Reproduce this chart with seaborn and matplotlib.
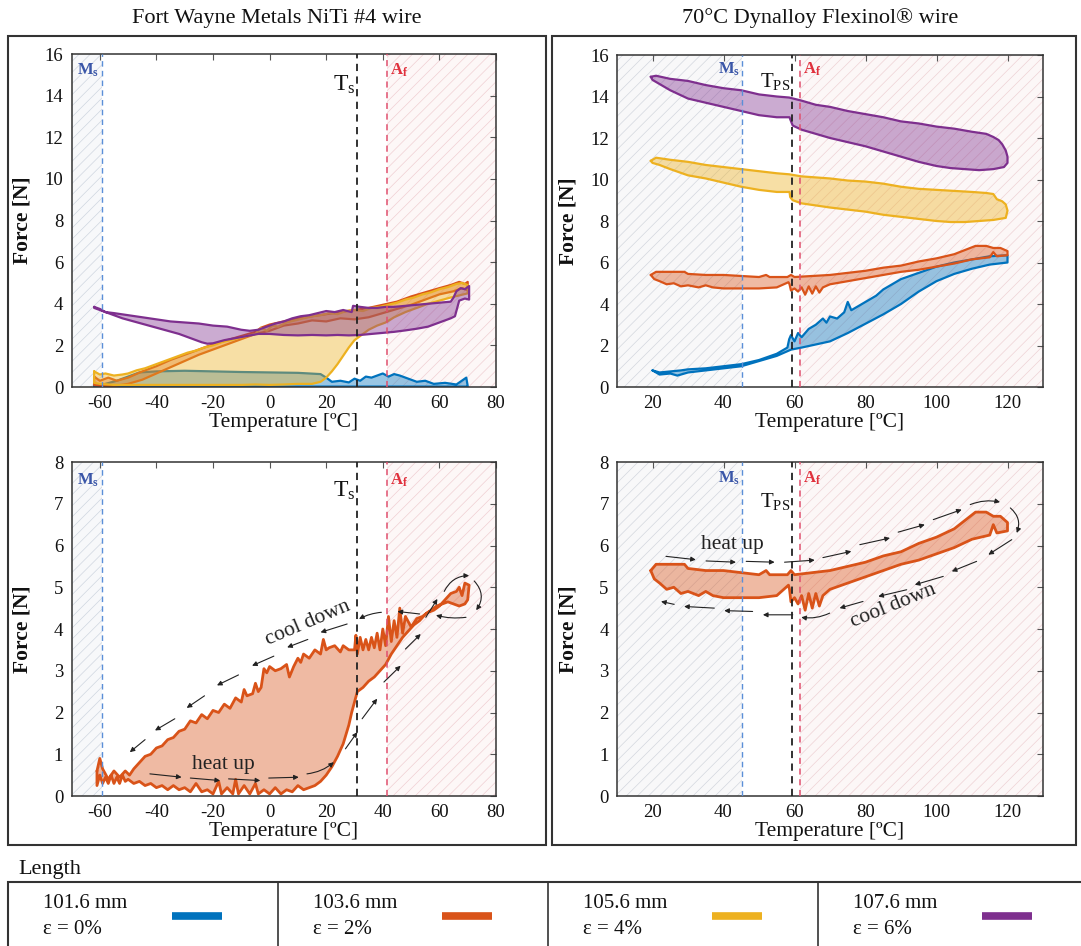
import numpy as np
import pandas as pd
import matplotlib
matplotlib.use("Agg")
import matplotlib.pyplot as plt
import seaborn as sns
from matplotlib.patches import Rectangle
from matplotlib.lines import Line2D

# ---------------- data ----------------
TITLES = ["Fort Wayne Metals NiTi #4 wire", "70°C Dynalloy Flexinol® wire"]
LENGTHS = ["101.6 mm", "103.6 mm", "105.6 mm", "107.6 mm"]
STRAINS = ["ε = 0%", "ε = 2%", "ε = 4%", "ε = 6%"]
COLORS = ["#0072BD", "#D95319", "#EDB120", "#7E2F8E"]

# Fort Wayne (left) – closed hysteresis loops (temperature, force)
BLUE_L_T = [-62, -50, -40, -30, -20, -10, 0, 10, 20, 30, 40, 50, 60, 70,
            70, 69.5, 66, 62, 58, 55, 52, 50, 48, 46,
            44, 42, 40, 38, 36, 34, 32, 30, 28, 25,
            22, 20, 18, 10, 0, -10, -20, -30, -40, -46,
            -50, -54, -58, -62]
BLUE_L_F = [0.02, 0.02, 0.02, 0.02, 0.02, 0.02, 0.02, 0.02, 0.02, 0.02, 0.02, 0.02, 0.02, 0.02,
            0.05, 0.45, 0.12, 0.2, 0.15, 0.3, 0.25, 0.35, 0.45, 0.55,
            0.62, 0.5, 0.65, 0.55, 0.45, 0.5, 0.3, 0.4, 0.22, 0.3,
            0.25, 0.45, 0.62, 0.68, 0.7, 0.72, 0.75, 0.78, 0.75, 0.7,
            0.5, 0.3, 0.15, 0.05]

ORANGE_TL_T = [-62, -60, -57, -54, -50, -45, -40, -35, -30, -25,
               -20, -15, -10, -5, -3, 0, 5, 10, 15, 20,
               25, 30, 35, 40, 45, 50, 55, 60, 64, 67,
               69, 70,
               70, 68, 65, 60, 55, 50, 45, 40, 35, 30,
               25, 20, 15, 10, 5, 0, -5, -10, -15, -20,
               -25, -30, -35, -40, -45, -50, -55, -60, -62]
ORANGE_TL_F = [0.5, 0.3, 0.45, 0.3, 0.45, 0.75, 1.0, 1.3, 1.55, 1.8,
               2.05, 2.25, 2.45, 2.65, 2.85, 3.0, 3.15, 3.3, 3.4, 3.5,
               3.6, 3.7, 3.8, 3.95, 4.1, 4.35, 4.55, 4.75, 4.9, 5.05,
               4.95, 5.05,
               4.65, 4.75, 4.6, 4.45, 4.2, 3.95, 3.75, 3.55, 3.35, 3.25,
               3.3, 3.15, 3.2, 3.05, 2.95, 2.7, 2.55, 2.3, 2.05, 1.8,
               1.55, 1.25, 0.95, 0.65, 0.35, 0.15, 0.05, 0.05, 0.1]

YELLOW_L_T = [-62, -60, -58, -55, -52, -50, -47, -44, -41, -38,
              -35, -32, -29, -26, -23, -20, -17, -14, -11, -8,
              -5, -3, -1, 1, 3, 6, 9, 12, 15, 18,
              21, 24, 27, 30, 33, 36, 39, 42, 45, 48,
              51, 54, 57, 60, 63, 66, 68, 70,
              70, 67, 64, 60, 56, 52, 48, 44, 41, 38,
              35, 32, 30, 28, 26, 24, 22, 20, 18, 15,
              10, 5, 0, -5, -10, -20, -30, -40, -50, -55,
              -60, -62]
YELLOW_L_F = [0.75, 0.6, 0.65, 0.55, 0.6, 0.65, 0.8, 0.9, 1.05, 1.2,
              1.35, 1.5, 1.65, 1.75, 1.9, 2.0, 2.15, 2.25, 2.35, 2.45,
              2.55, 2.85, 2.7, 2.95, 2.9, 3.1, 3.2, 3.3, 3.4, 3.45,
              3.55, 3.5, 3.65, 3.7, 3.65, 3.8, 3.85, 3.95, 4.05, 4.2,
              4.3, 4.45, 4.55, 4.7, 4.8, 4.95, 5.0, 4.9,
              4.5, 4.4, 4.3, 4.15, 4.0, 3.8, 3.6, 3.35, 3.1, 2.95,
              2.75, 2.45, 2.25, 1.9, 1.5, 1.1, 0.75, 0.45, 0.25, 0.15,
              0.15, 0.12, 0.1, 0.12, 0.1, 0.1, 0.1, 0.1, 0.1, 0.1,
              0.15, 0.2]

PURPLE_L_T = [-62, -60, -58, -55, -50, -45, -40, -35, -30, -25,
              -20, -15, -10, -7, -4, -1, 2, 5, 8, 11,
              14, 17, 20, 23, 26, 29, 29.5, 32, 35, 38,
              41, 44, 48, 52, 56, 60, 64, 65, 66, 67.5,
              69, 70.5,
              70.5, 69, 67, 65.5, 64, 60, 56, 52, 48, 44,
              40, 36, 32, 28, 24, 20, 15, 10, 5, 0,
              -4, -8, -12, -16, -20, -22, -24, -28, -32, -36,
              -40, -44, -48, -52, -56, -60, -62]
PURPLE_L_F = [3.85, 3.75, 3.6, 3.55, 3.45, 3.35, 3.25, 3.15, 3.1, 3.05,
              2.95, 2.9, 2.75, 2.7, 2.75, 2.9, 3.05, 3.15, 3.3, 3.4,
              3.45, 3.55, 3.65, 3.6, 3.7, 3.6, 3.9, 3.85, 3.8, 3.8,
              3.85, 3.85, 3.9, 3.95, 4.0, 4.05, 4.1, 4.3, 4.6, 4.75,
              4.7, 4.85,
              4.2, 4.25, 4.15, 3.4, 3.3, 3.1, 2.9, 2.8, 2.72, 2.65,
              2.6, 2.55, 2.5, 2.48, 2.5, 2.48, 2.5, 2.48, 2.5, 2.55,
              2.55, 2.45, 2.35, 2.25, 2.1, 2.08, 2.15, 2.35, 2.55, 2.7,
              2.85, 3.0, 3.15, 3.3, 3.5, 3.7, 3.8]

# 2% loop, Fort Wayne (bottom-left panel)
ORANGE_BL_T = [-61, -61, -60, -59, -58, -57, -56, -55, -54, -53,
               -52, -51, -50, -48, -46, -44, -42, -40, -38, -36,
               -34, -32, -30, -28, -26, -24, -22, -20, -18, -17,
               -15, -13, -12, -11, -9, -7, -5, -4, -2, 0,
               2, 4, 6, 8, 10, 12, 14, 16, 18, 20,
               22, 24, 26, 28, 29, 30, 31, 33, 35, 37,
               39, 41, 43, 45, 47, 49, 51, 53, 55, 57,
               59, 61, 63, 65, 67, 69, 70, 70.5, 69, 68,
               67, 66, 64, 62, 60, 58, 56, 54, 52, 50,
               48, 47, 46, 45, 44, 43, 42, 41, 40, 39,
               38, 37, 36, 35, 34, 33, 32, 31, 30.5, 30,
               28, 26, 25, 23, 21, 20, 19, 18, 16, 14,
               12, 11, 10, 8.5, 7, 6, 4, 2, 0, -1,
               -2, -3, -4, -5, -6, -8, -9, -10, -12, -14,
               -16, -18, -20, -22, -24, -26, -28, -30, -32, -34,
               -36, -38, -40, -42, -44, -46, -48, -49.5, -51, -53,
               -55, -57, -59, -60]
ORANGE_BL_F = [0.6, 0.25, 0.5, 0.3, 0.45, 0.3, 0.5, 0.3, 0.45, 0.3,
               0.5, 0.35, 0.4, 0.3, 0.35, 0.25, 0.3, 0.2, 0.25, 0.15,
               0.25, 0.15, 0.2, 0.1, 0.3, 0.1, 0.15, 0.05, 0.35, 0.05,
               0.2, 0.05, 0.4, 0.05, 0.25, 0.05, 0.3, 0.05, 0.15, 0.05,
               0.2, 0.05, 0.15, 0.1, 0.25, 0.15, 0.2, 0.25, 0.35, 0.5,
               0.7, 0.95, 1.25, 1.7, 2.0, 2.25, 2.5, 2.6, 2.75, 2.85,
               3.0, 3.15, 3.4, 3.6, 3.8, 3.95, 4.1, 4.2, 4.35, 4.45,
               4.55, 4.6, 4.65, 4.6, 4.55, 4.6, 4.7, 5.05, 5.1, 4.8,
               5.0, 4.9, 4.85, 4.7, 4.55, 4.45, 4.4, 4.3, 4.25, 4.05,
               4.3, 3.9, 4.5, 3.8, 4.2, 3.7, 4.3, 3.6, 4.0, 3.5,
               3.9, 3.55, 3.8, 3.5, 3.75, 3.5, 3.8, 3.4, 3.85, 3.5,
               3.5, 3.6, 3.45, 3.6, 3.55, 3.5, 3.75, 3.4, 3.5, 3.3,
               3.4, 3.2, 3.3, 3.1, 2.85, 3.15, 3.05, 3.0, 3.1, 2.95,
               3.05, 2.6, 2.5, 2.7, 2.45, 2.4, 2.55, 2.25, 2.35, 2.1,
               2.2, 2.0, 2.05, 1.85, 1.95, 1.75, 1.8, 1.6, 1.55, 1.4,
               1.35, 1.2, 1.15, 1.0, 0.95, 0.8, 0.65, 0.5, 0.6, 0.45,
               0.6, 0.4, 0.65, 0.9]

# Dynalloy (right) loops
BLUE_R_T = [20, 22, 25, 28, 30, 35, 40, 45, 50, 55,
            58, 58.5, 59, 60, 61, 62, 64, 66, 68, 69,
            70, 72, 74, 75, 76, 78, 80, 83, 85, 88,
            90, 95, 100, 105, 110, 115, 120, 120, 115, 110,
            105, 100, 95, 90, 85, 80, 75, 70, 66, 62,
            59, 55, 50, 45, 40, 35, 30, 27, 25, 22]
BLUE_R_F = [0.8, 0.7, 0.75, 0.8, 0.85, 0.9, 1.0, 1.1, 1.3, 1.6,
            1.9, 2.3, 2.5, 2.2, 2.6, 2.4, 2.8, 3.0, 3.3, 3.1,
            3.4, 3.3, 3.6, 4.1, 3.7, 3.9, 4.1, 4.4, 4.7, 5.0,
            5.2, 5.5, 5.8, 6.0, 6.15, 6.3, 6.35, 6.0, 5.9, 5.7,
            5.45, 5.1, 4.6, 4.0, 3.5, 3.05, 2.6, 2.2, 2.05, 1.9,
            1.8, 1.5, 1.25, 1.0, 0.9, 0.8, 0.7, 0.55, 0.65, 0.6]

ORANGE_R_T = [19.5, 21, 25, 29, 30, 35, 40, 45, 50, 52,
              53, 55, 58, 59, 60, 65, 70, 75, 80, 85,
              90, 95, 100, 105, 108, 111, 114, 116, 118, 120,
              120, 117, 116, 115, 110, 105, 100, 95, 90, 85,
              80, 75, 70, 68, 67, 66, 65, 64, 63, 62,
              61, 60, 59, 58.6, 58.3, 55, 50, 45, 40, 37,
              35, 33, 30, 28, 26, 24, 22, 20.5]
ORANGE_R_F = [5.4, 5.55, 5.55, 5.55, 5.45, 5.4, 5.4, 5.35, 5.3, 5.4,
              5.3, 5.3, 5.3, 5.4, 5.3, 5.35, 5.4, 5.5, 5.6, 5.75,
              5.85, 6.05, 6.2, 6.4, 6.6, 6.8, 6.8, 6.7, 6.7, 6.55,
              6.35, 6.3, 6.5, 6.25, 6.15, 5.95, 5.8, 5.65, 5.55, 5.4,
              5.25, 5.1, 4.95, 4.8, 4.55, 4.85, 4.5, 4.85, 4.45, 4.8,
              4.6, 4.75, 4.65, 4.95, 5.05, 4.8, 4.75, 4.75, 4.75, 4.8,
              4.9, 4.8, 4.9, 4.85, 5.0, 4.95, 5.1, 5.2]

YELLOW_R_T = [19.5, 21, 25, 30, 35, 40, 45, 50, 55, 58.5,
              62, 66, 70, 75, 80, 85, 90, 95, 100, 105,
              110, 114, 116, 117, 118.5, 119.5, 120, 119.5, 116, 112,
              108, 104, 100, 95, 90, 85, 80, 75, 70, 66,
              62, 59.5, 58.8, 58.6, 55, 50, 45, 40, 35, 30,
              25, 22, 20]
YELLOW_R_F = [10.9, 11.05, 10.95, 10.85, 10.7, 10.6, 10.5, 10.4, 10.3, 10.25,
              10.15, 10.1, 10.05, 9.95, 9.9, 9.8, 9.65, 9.55, 9.5, 9.45,
              9.4, 9.35, 9.3, 9.05, 8.95, 8.8, 8.5, 8.15, 8.05, 8.0,
              7.95, 7.95, 8.0, 8.1, 8.2, 8.3, 8.45, 8.55, 8.65, 8.75,
              8.85, 9.0, 9.15, 9.4, 9.4, 9.5, 9.65, 9.85, 10.05, 10.2,
              10.5, 10.7, 10.8]

PURPLE_R_T = [19.5, 21, 25, 30, 35, 40, 45, 50, 55, 58.5,
              62, 66, 70, 75, 80, 85, 90, 95, 100, 105,
              110, 114, 116, 117.5, 118.5, 119.5, 120, 120, 119, 116,
              112, 108, 104, 100, 95, 90, 85, 80, 75, 70,
              66, 62, 59.5, 58.8, 58.6, 55, 50, 45, 40, 35,
              30, 25, 22, 20]
PURPLE_R_F = [14.95, 15.0, 14.85, 14.75, 14.55, 14.4, 14.3, 14.1, 14.0, 13.95,
              13.8, 13.6, 13.5, 13.3, 13.15, 13.0, 12.8, 12.7, 12.55, 12.45,
              12.3, 12.2, 12.05, 11.9, 11.7, 11.4, 11.1, 10.8, 10.6, 10.5,
              10.45, 10.5, 10.55, 10.65, 10.85, 11.1, 11.35, 11.6, 11.8, 12.0,
              12.2, 12.4, 12.6, 12.9, 13.0, 13.0, 13.1, 13.3, 13.5, 13.7,
              13.9, 14.3, 14.6, 14.8]

# transformation temperatures
MS_L, TS_L, AF_L = -59.3, 31.0, 41.6
MS_R, TPS_R, AF_R = 45.2, 59.3, 61.5

# annotation arrows (x0, y0, x1, y1, curvature)
HEAT_ARROWS_L = [(-42.3, 0.53, -31.1, 0.45, 0), (-28, 0.43, -17.5, 0.37, 0),
                 (-14.5, 0.41, -3.3, 0.37, 0), (-0.3, 0.43, 10.3, 0.45, 0),
                 (13.2, 0.53, 22.7, 0.81, 0.15), (26.8, 1.13, 31, 1.53, 0),
                 (32.7, 1.85, 38, 2.33, 0), (40.4, 2.73, 46.3, 3.12, 0),
                 (48, 3.52, 53.4, 3.88, 0), (55.2, 4.28, 59.3, 4.72, 0),
                 (61.7, 4.9, 70.5, 5.28, -0.3), (72.3, 5.15, 73, 4.45, -0.4)]
COOL_ARROWS_L = [(69.4, 4.28, 58.8, 4.33, -0.1), (53, 4.36, 45.2, 4.42, 0),
                 (39.5, 4.4, 31.6, 4.24, 0.1), (27.4, 4.12, 18, 3.92, 0),
                 (13.5, 3.75, 6.2, 3.56, 0), (1.5, 3.35, -6.2, 3.12, 0),
                 (-11, 2.9, -18.6, 2.65, 0), (-23, 2.4, -29.3, 2.11, 0),
                 (-33.5, 1.85, -40.5, 1.57, 0), (-44, 1.35, -49.4, 1.05, 0)]
HEAT_ARROWS_R = [(23.8, 5.74, 32.2, 5.66, 0), (35.1, 5.63, 43.5, 5.6, 0),
                 (46.4, 5.62, 54.4, 5.6, 0), (57.2, 5.6, 65.7, 5.65, 0),
                 (68, 5.71, 76, 5.86, 0), (78.4, 6.02, 86.9, 6.18, 0),
                 (89.2, 6.32, 96.7, 6.5, 0), (99.1, 6.62, 107.1, 6.86, 0),
                 (109.5, 6.98, 117.9, 7.04, -0.15), (120.8, 6.9, 122.6, 6.3, -0.35)]
COOL_ARROWS_R = [(121.2, 6.14, 114.6, 5.78, 0), (111.3, 5.62, 104.3, 5.38, 0),
                 (101.9, 5.26, 93.9, 5.06, 0), (91.6, 4.94, 83.6, 4.78, 0),
                 (79.3, 4.66, 72.7, 4.5, 0), (69.9, 4.38, 61.9, 4.28, -0.15),
                 (59.5, 4.34, 51.1, 4.34, 0), (48.2, 4.42, 40.2, 4.44, 0),
                 (37.4, 4.5, 28.9, 4.54, 0), (26.1, 4.59, 22.4, 4.66, 0)]

# ---------------- style ----------------
sns.set_theme(style="white")
plt.rcParams["font.family"] = ["Liberation Serif", "DejaVu Serif"]
plt.rcParams["mathtext.fontset"] = "custom"
plt.rcParams["mathtext.rm"] = "Liberation Serif"
plt.rcParams["mathtext.bf"] = "Liberation Serif:bold"
plt.rcParams["mathtext.it"] = "Liberation Serif:italic"
plt.rcParams["hatch.linewidth"] = 0.5
plt.rcParams["axes.unicode_minus"] = False

W, H = 1081, 946
fig = plt.figure(figsize=(W / 100, H / 100), dpi=100)
fig.patch.set_facecolor("white")


def fx(x):
    return x / W


def fy(y):
    return 1 - y / H


def ax_at(l, t, r, b):
    return fig.add_axes([fx(l), fy(b), (r - l) / W, (b - t) / H])


def draw_loop(ax, T, F, color, lw=1.6, alpha=0.4, z=2):
    ax.fill(T, F, facecolor=color, alpha=alpha, lw=0, zorder=z)
    df = pd.DataFrame({"T": list(T) + [T[0]], "F": list(F) + [F[0]]})
    sns.lineplot(data=df, x="T", y="F", sort=False, estimator=None,
                 color=color, lw=lw, ax=ax, zorder=z + 0.1)


def shade(ax, x0, x1, face, hatchc):
    ax.axvspan(x0, x1, facecolor=face, edgecolor=hatchc, hatch="///",
               lw=0, zorder=0)


def style_axes(ax, xlim, xticks, ylim, yticks):
    ax.set_xlim(*xlim)
    ax.set_ylim(*ylim)
    ax.set_xticks(xticks)
    ax.set_yticks(yticks)
    ax.tick_params(direction="in", top=True, right=True, length=4,
                   width=0.8, color="#555555", labelsize=13.5, pad=6,
                   labelcolor="#111111")
    for s in ax.spines.values():
        s.set_color("#333333")
        s.set_linewidth(1.1)
    ax.set_xlabel("Temperature [ºC]", fontsize=15.5, color="#111111")
    ax.set_ylabel("Force [N]", fontsize=15.5, fontweight="bold", color="#111111")


def vlines(ax, ms, ts, af):
    ax.axvline(ms, color="#5b8fd8", ls=(0, (4, 3)), lw=1.0, zorder=4)
    ax.axvline(ts, color="#222222", ls=(0, (4, 3)), lw=1.3, zorder=4)
    ax.axvline(af, color="#e0506e", ls=(0, (4, 3)), lw=1.1, zorder=4)


def arrows(ax, lst):
    for x0, y0, x1, y1, rad in lst:
        ax.annotate("", xy=(x1, y1), xytext=(x0, y0),
                    arrowprops=dict(arrowstyle="-|>", color="#222222", lw=0.8,
                                    mutation_scale=7, shrinkA=0, shrinkB=0,
                                    connectionstyle=f"arc3,rad={rad}"),
                    zorder=6)


def left_panel(ax, ymax, yticks, label_y, ts_y):
    shade(ax, -70, MS_L, "#f7f8fa", "#cfd6e0")
    shade(ax, AF_L, 80, "#fdf7f7", "#f0cfd3")
    vlines(ax, MS_L, TS_L, AF_L)
    style_axes(ax, (-70, 80), range(-60, 81, 20), (0, ymax), yticks)
    ax.text(-60.3, label_y, r"$\mathbf{M}_{\mathbf{s}}$", color="#3a56a8",
            fontsize=12, ha="right", va="center", zorder=7)
    ax.text(30.2, ts_y, r"$\mathrm{T}_{\mathrm{s}}$", color="#111111",
            fontsize=17, ha="right", va="center", zorder=7)
    ax.text(42.6, label_y, r"$\mathbf{A}_{\mathbf{f}}$", color="#e0303c",
            fontsize=12, ha="left", va="center", zorder=7)


def right_panel(ax, ymax, yticks, label_y, tps_y):
    shade(ax, 10, MS_R, "#f8f8f9", "#d3d7de")
    shade(ax, AF_R, 130, "#fcf7f7", "#eed2d5")
    vlines(ax, MS_R, TPS_R, AF_R)
    style_axes(ax, (10, 130), range(20, 121, 20), (0, ymax), yticks)
    ax.text(44.7, label_y, r"$\mathbf{M}_{\mathbf{s}}$", color="#3a56a8",
            fontsize=12, ha="right", va="center", zorder=7)
    ax.text(58.8, tps_y, r"$\mathrm{T}_{\mathrm{PS}}$", color="#111111",
            fontsize=15, ha="right", va="center", zorder=7)
    ax.text(62.4, label_y, r"$\mathbf{A}_{\mathbf{f}}$", color="#e0303c",
            fontsize=12, ha="left", va="center", zorder=7)


# ---------------- panels ----------------
ax_tl = ax_at(71.5, 54, 496, 387)
ax_tr = ax_at(617, 55, 1043, 387)
ax_bl = ax_at(71.5, 462, 496, 796)
ax_br = ax_at(617, 462, 1043, 796)

# top-left
draw_loop(ax_tl, BLUE_L_T, BLUE_L_F, COLORS[0], z=2)
draw_loop(ax_tl, ORANGE_TL_T, ORANGE_TL_F, COLORS[1], alpha=0.35, z=2.2)
draw_loop(ax_tl, YELLOW_L_T, YELLOW_L_F, COLORS[2], z=2.4)
draw_loop(ax_tl, PURPLE_L_T, PURPLE_L_F, COLORS[3], z=2.6)
left_panel(ax_tl, 16, range(0, 17, 2), 15.2, 14.5)

# top-right
draw_loop(ax_tr, BLUE_R_T, BLUE_R_F, COLORS[0], z=2)
draw_loop(ax_tr, ORANGE_R_T, ORANGE_R_F, COLORS[1], z=2.2)
draw_loop(ax_tr, YELLOW_R_T, YELLOW_R_F, COLORS[2], z=2.4)
draw_loop(ax_tr, PURPLE_R_T, PURPLE_R_F, COLORS[3], z=2.6)
right_panel(ax_tr, 16, range(0, 17, 2), 15.3, 14.7)

# bottom-left
draw_loop(ax_bl, ORANGE_BL_T, ORANGE_BL_F, COLORS[1], lw=2.0, z=2)
left_panel(ax_bl, 8, range(0, 9), 7.55, 7.3)
arrows(ax_bl, HEAT_ARROWS_L)
arrows(ax_bl, COOL_ARROWS_L)
ax_bl.text(-16.5, 0.75, "heat up", fontsize=15.5, ha="center", va="center",
           color="#222222", zorder=7)
ax_bl.text(13.5, 4.15, "cool down", fontsize=15.5, ha="center", va="center",
           rotation=23, color="#222222", zorder=7)

# bottom-right
draw_loop(ax_br, ORANGE_R_T, ORANGE_R_F, COLORS[1], lw=2.0, z=2)
right_panel(ax_br, 8, range(0, 9), 7.6, 7.05)
arrows(ax_br, HEAT_ARROWS_R)
arrows(ax_br, COOL_ARROWS_R)
ax_br.text(42.6, 6.02, "heat up", fontsize=15.5, ha="center", va="center",
           color="#222222", zorder=7)
ax_br.text(87.8, 4.55, "cool down", fontsize=15.5, ha="center", va="center",
           rotation=22, color="#222222", zorder=7)

for ax in (ax_tl, ax_bl):
    ax.yaxis.set_label_coords((33 - 71.5) / 424.5, 0.5)
    ax.xaxis.set_label_coords(0.5, -0.078)
for ax in (ax_tr, ax_br):
    ax.yaxis.set_label_coords((578 - 617) / 426, 0.5)
    ax.xaxis.set_label_coords(0.5, -0.078)

# ---------------- frames, titles, legend ----------------
for (l, t, r, b) in [(8, 36, 546, 845), (552, 36, 1076, 845)]:
    fig.add_artist(Rectangle((fx(l), fy(b)), (r - l) / W, (b - t) / H,
                             transform=fig.transFigure, fill=False,
                             edgecolor="#333333", lw=1.5))

fig.text(fx(277), fy(18), TITLES[0], fontsize=16, ha="center", va="center",
         color="#111111")
fig.text(fx(820), fy(18), TITLES[1], fontsize=16, ha="center", va="center",
         color="#111111")

fig.text(fx(18), fy(869), "Length", fontsize=16, ha="left", va="center",
         color="#111111")
fig.add_artist(Rectangle((fx(8), fy(960)), (1100 - 8) / W, (960 - 882) / H,
                         transform=fig.transFigure, fill=False,
                         edgecolor="#333333", lw=1.5))
for i in range(4):
    x0 = 8 + 270 * i
    if i > 0:
        fig.add_artist(Line2D([fx(x0), fx(x0)], [fy(882), fy(960)],
                              transform=fig.transFigure, color="#333333", lw=1.2))
    fig.text(fx(x0 + 35), fy(903), LENGTHS[i], fontsize=15, ha="left",
             va="center", color="#111111")
    fig.text(fx(x0 + 35), fy(929), STRAINS[i], fontsize=15, ha="left",
             va="center", color="#111111")
    fig.add_artist(Line2D([fx(x0 + 164), fx(x0 + 214)], [fy(916), fy(916)],
                          transform=fig.transFigure, color=COLORS[i], lw=5.5,
                          solid_capstyle="butt"))

fig.savefig("out.png", dpi=100, facecolor="white")
